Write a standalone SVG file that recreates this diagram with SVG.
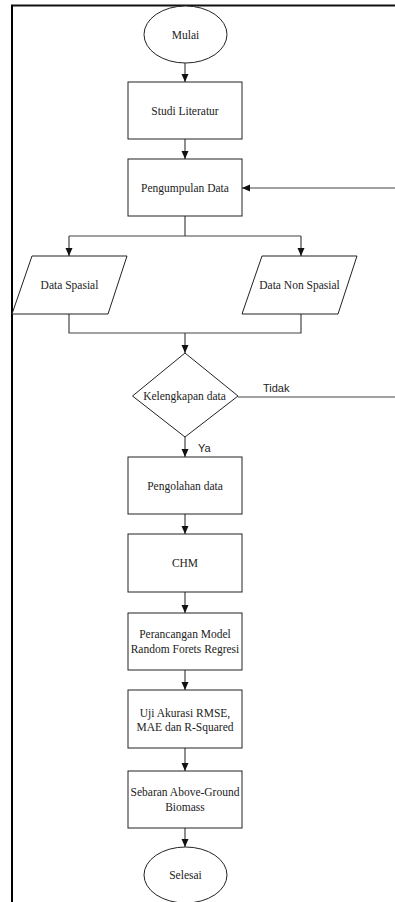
<svg xmlns="http://www.w3.org/2000/svg" width="395" height="902" viewBox="0 0 395 902">
<defs>
<style>
.shape{fill:#fff;stroke:#222;stroke-width:1}
.lbl{font-family:"Liberation Serif","Times New Roman",serif;font-size:11.5px;fill:#222;text-anchor:middle}
.lbl2{font-family:"Liberation Sans",Arial,sans-serif;font-size:11px;fill:#222}
.con{fill:none;stroke:#444;stroke-width:1.2}
.arr{marker-end:url(#ah)}
</style>
<marker id="ah" viewBox="0 0 8 8" refX="8" refY="4" markerWidth="8" markerHeight="8" markerUnits="userSpaceOnUse" orient="auto">
<path d="M0,0.5 L8,4 L0,7.5 z" fill="#111"/>
</marker>
</defs>
<rect width="395" height="902" fill="#fff"/>
<g id="frame">
<line x1="11" y1="5.5" x2="395" y2="5.5" stroke="#111" stroke-width="2"/>
<line x1="12" y1="5" x2="12" y2="902" stroke="#000" stroke-width="2"/>
</g>
<g id="connectors">
<path class="con arr" d="M185,63 V82"/>
<path class="con arr" d="M185,139 V159"/>
<path class="con arr" d="M395,188 H242"/>
<path class="con" d="M185,216 V236 M69,236 H301"/>
<path class="con arr" d="M69,236 V256"/>
<path class="con arr" d="M301,236 V256"/>
<path class="con" d="M69,314 V333 H301 V314"/>
<path class="con arr" d="M185,333 V353"/>
<path class="con" d="M238,397 H395"/>
<path class="con arr" d="M185,437 V457"/>
<path class="con arr" d="M185,514 V534"/>
<path class="con arr" d="M185,592 V613"/>
<path class="con arr" d="M185,670 V690"/>
<path class="con arr" d="M185,748 V771"/>
<path class="con arr" d="M185,828 V847"/>
<text class="lbl2" x="263" y="392">Tidak</text>
<text class="lbl2" x="198" y="452">Ya</text>
</g>
<g id="mulai">
<ellipse class="shape" cx="185.5" cy="34.5" rx="41.5" ry="28.5"/>
<text class="lbl" x="185.5" y="39">Mulai</text>
</g>
<g id="studi">
<rect class="shape" x="128" y="82" width="114" height="57"/>
<text class="lbl" x="185" y="114.5">Studi Literatur</text>
</g>
<g id="pengumpulan">
<rect class="shape" x="128" y="159" width="114" height="57"/>
<text class="lbl" x="185" y="191.5">Pengumpulan Data</text>
</g>
<g id="spasial">
<polygon class="shape" points="32,256 127,256 108,314 12,314"/>
<text class="lbl" x="69.5" y="289">Data Spasial</text>
</g>
<g id="nonspasial">
<polygon class="shape" points="262,256 357,256 338,314 242,314"/>
<text class="lbl" x="299.5" y="289">Data Non Spasial</text>
</g>
<g id="kelengkapan">
<polygon class="shape" points="185,353 238,396 185,437 132.5,396"/>
<text class="lbl" x="184.5" y="400">Kelengkapan data</text>
</g>
<g id="pengolahan">
<rect class="shape" x="128" y="457" width="114" height="57"/>
<text class="lbl" x="185" y="489.5">Pengolahan data</text>
</g>
<g id="chm">
<rect class="shape" x="128" y="534" width="114" height="58"/>
<text class="lbl" x="185" y="567">CHM</text>
</g>
<g id="perancangan">
<rect class="shape" x="128" y="613" width="114" height="57"/>
<text class="lbl" x="185" y="638">Perancangan Model</text>
<text class="lbl" x="185" y="653">Random Forets Regresi</text>
</g>
<g id="uji">
<rect class="shape" x="128" y="690" width="114" height="58"/>
<text class="lbl" x="185" y="716.5">Uji Akurasi RMSE,</text>
<text class="lbl" x="185" y="731">MAE dan R-Squared</text>
</g>
<g id="sebaran">
<rect class="shape" x="128" y="771" width="114" height="57"/>
<text class="lbl" x="185" y="796">Sebaran Above-Ground</text>
<text class="lbl" x="185" y="811">Biomass</text>
</g>
<g id="selesai">
<ellipse class="shape" cx="185.5" cy="875" rx="41.5" ry="28"/>
<text class="lbl" x="185.5" y="879">Selesai</text>
</g>
</svg>
